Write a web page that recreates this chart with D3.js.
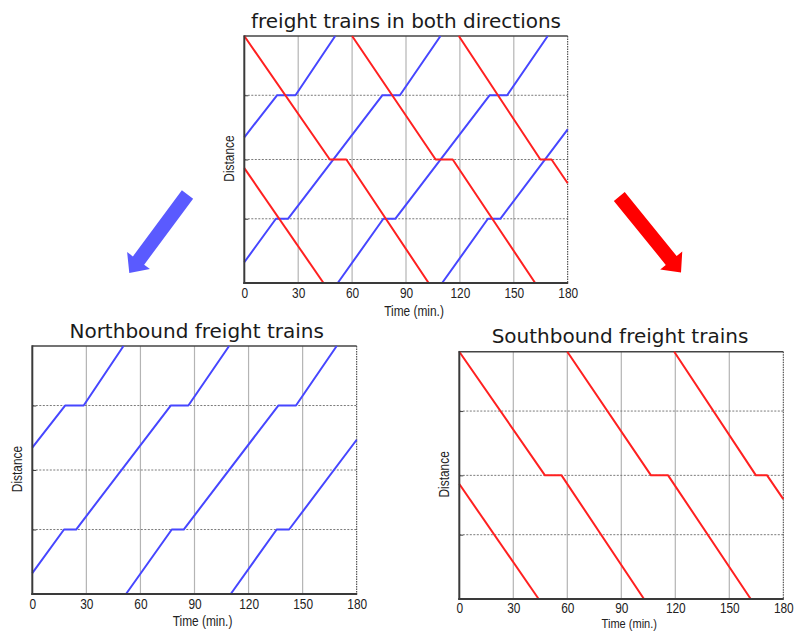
<!DOCTYPE html>
<html>
<head>
<meta charset="utf-8">
<script src="https://cdn.jsdelivr.net/npm/d3@7"></script>
<style>
  html, body { margin: 0; background: #fff; }
  svg { display: block; }
</style>
</head>
<body>
<svg id="chart" width="798" height="631"></svg>
<script>
// Time axis ticks (minutes) and the intermediate stations with passing loops
const timeTicks = [0, 30, 60, 90, 120, 150, 180];
const stationKm = [26, 50, 76];
const lineLength = 100;

// Northbound trains: [time (min), distance] breakpoints, dwell at stations 26 and 76
const northbound = [
  [[0, 59], [18.2, 76], [28.5, 76], [50.6, 100]],
  [[0, 8.4], [17.6, 26], [24.3, 26], [76.8, 76], [86.6, 76], [109.2, 100]],
  [[52, 0], [77.4, 26], [84, 26], [136.5, 76], [146.3, 76], [168.9, 100]],
  [[110.1, 0], [135.6, 26], [142.5, 26], [180, 62.2]]
];

// Southbound trains: dwell at the middle station (50)
const southbound = [
  [[0, 46.5], [44.1, 0]],
  [[0, 100], [47.6, 50], [56.8, 50], [102.6, 0]],
  [[60, 100], [106.5, 50], [116, 50], [161.9, 0]],
  [[119.4, 100], [164.8, 50], [171, 50], [180, 40.4]]
];

const BLUE = "#4646ff";
const RED = "#ff2020";
const LABEL_FONT = "'Liberation Sans', Arial, sans-serif";
const TITLE_FONT = "'DejaVu Sans', Verdana, sans-serif";
const NARROW = 0.85;

const svg = d3.select("#chart");
svg.append("rect").attr("width", 798).attr("height", 631).attr("fill", "#fff");

const panels = [
  { left: 244.3, right: 567.7, top: 36, bottom: 283,
    title: "freight trains in both directions", titleX: 406, titleY: 28.3,
    tickPad: 5.5, xLabelDy: 33, xLabelSize: 14,
    sets: [{ trains: northbound, color: BLUE }, { trains: southbound, color: RED }] },
  { left: 32.3, right: 356.7, top: 346, bottom: 594,
    title: "Northbound freight trains", titleX: 196.7, titleY: 338.3,
    tickPad: 5.5, xLabelDy: 31.5, xLabelSize: 14,
    sets: [{ trains: northbound, color: BLUE }] },
  { left: 459.3, right: 783.3, top: 351.7, bottom: 599,
    title: "Southbound freight trains", titleX: 620, titleY: 342.7,
    tickPad: 4, xLabelDy: 29, xLabelSize: 13,
    sets: [{ trains: southbound, color: RED }] }
];

function drawPanel(p) {
  const x = d3.scaleLinear().domain([0, 180]).range([p.left, p.right]);
  const y = d3.scaleLinear().domain([0, lineLength]).range([p.bottom, p.top]);
  const g = svg.append("g");

  // grid: solid light verticals at time ticks, dotted horizontals at stations
  g.append("g").selectAll("line").data(timeTicks.slice(1, -1)).join("line")
    .attr("x1", d => x(d)).attr("x2", d => x(d))
    .attr("y1", p.top).attr("y2", p.bottom)
    .attr("stroke", "#b4b4b4").attr("stroke-width", 1.2);
  g.append("g").selectAll("line").data(stationKm).join("line")
    .attr("x1", p.left).attr("x2", p.right)
    .attr("y1", d => y(d)).attr("y2", d => y(d))
    .attr("stroke", "#7a7a7a").attr("stroke-width", 1)
    .attr("stroke-dasharray", "2,1.5");

  // right edge dotted, top edge solid
  g.append("line").attr("x1", p.right).attr("x2", p.right)
    .attr("y1", p.top).attr("y2", p.bottom)
    .attr("stroke", "#333").attr("stroke-width", 1).attr("stroke-dasharray", "1.5,1");
  g.append("line").attr("x1", p.left).attr("x2", p.right)
    .attr("y1", p.top).attr("y2", p.top)
    .attr("stroke", "#444").attr("stroke-width", 1.5);

  // train paths
  const path = d3.line().x(d => x(d[0])).y(d => y(d[1]));
  p.sets.forEach(s => {
    g.append("g").selectAll("path").data(s.trains).join("path")
      .attr("d", path)
      .attr("fill", "none")
      .attr("stroke", s.color)
      .attr("stroke-width", 2)
      .attr("stroke-linejoin", "round");
  });

  // axes
  const xAxis = d3.axisBottom(x).tickValues(timeTicks).tickSize(0).tickPadding(p.tickPad);
  g.append("g").attr("transform", `translate(0,${p.bottom})`).call(xAxis)
    .call(a => a.select(".domain").remove())
    .selectAll("text")
    .attr("font-family", LABEL_FONT).attr("font-size", 14).attr("fill", "#222")
    .attr("transform", `scale(${NARROW},1)`);
  const yAxis = d3.axisLeft(y).tickValues(stationKm).tickSize(-4).tickFormat("");
  g.append("g").attr("transform", `translate(${p.left},0)`).call(yAxis)
    .call(a => a.select(".domain").remove())
    .selectAll("line").attr("stroke", "#444");

  // left and bottom frame
  g.append("line").attr("x1", p.left).attr("x2", p.left)
    .attr("y1", p.top - 0.75).attr("y2", p.bottom + 1)
    .attr("stroke", "#3a3a3a").attr("stroke-width", 2);
  g.append("line").attr("x1", p.left - 1).attr("x2", p.right + 0.5)
    .attr("y1", p.bottom).attr("y2", p.bottom)
    .attr("stroke", "#3a3a3a").attr("stroke-width", 2);

  // axis titles
  g.append("text")
    .attr("transform", `translate(${(p.left + p.right) / 2 + 8},${p.bottom + p.xLabelDy}) scale(${NARROW},1)`)
    .attr("text-anchor", "middle")
    .attr("font-family", LABEL_FONT).attr("font-size", p.xLabelSize).attr("fill", "#222")
    .text("Time (min.)");
  g.append("text")
    .attr("transform", `translate(${p.left - 10.5},${(p.top + p.bottom) / 2 - 1}) rotate(-90) scale(${NARROW},1)`)
    .attr("text-anchor", "middle")
    .attr("font-family", LABEL_FONT).attr("font-size", 14).attr("fill", "#222")
    .text("Distance");

  // panel title
  g.append("text")
    .attr("x", p.titleX).attr("y", p.titleY)
    .attr("text-anchor", "middle")
    .attr("font-family", TITLE_FONT).attr("font-size", 20).attr("fill", "#1a1a1a")
    .text(p.title);
}

panels.forEach(drawPanel);

// block arrows pointing from the combined chart to each direction
function arrowPoints(tail, tip, shaftHalf, headHalf, headLen) {
  const dx = tip[0] - tail[0], dy = tip[1] - tail[1];
  const L = Math.hypot(dx, dy);
  const ux = dx / L, uy = dy / L, px = -uy, py = ux;
  const bx = tip[0] - ux * headLen, by = tip[1] - uy * headLen;
  return [
    [tail[0] + px * shaftHalf, tail[1] + py * shaftHalf],
    [bx + px * shaftHalf, by + py * shaftHalf],
    [bx + px * headHalf, by + py * headHalf],
    tip,
    [bx - px * headHalf, by - py * headHalf],
    [bx - px * shaftHalf, by - py * shaftHalf],
    [tail[0] - px * shaftHalf, tail[1] - py * shaftHalf]
  ];
}

const arrows = [
  { tail: [187.5, 194.5], tip: [129.3, 273], color: "#5a5aff" },
  { tail: [619.3, 196.5], tip: [681, 272.5], color: "#ff0000" }
];
svg.append("g").selectAll("polygon").data(arrows).join("polygon")
  .attr("points", d => arrowPoints(d.tail, d.tip, 7, 14.2, 15.5).map(q => q.join(",")).join(" "))
  .attr("fill", d => d.color);
</script>
</body>
</html>
